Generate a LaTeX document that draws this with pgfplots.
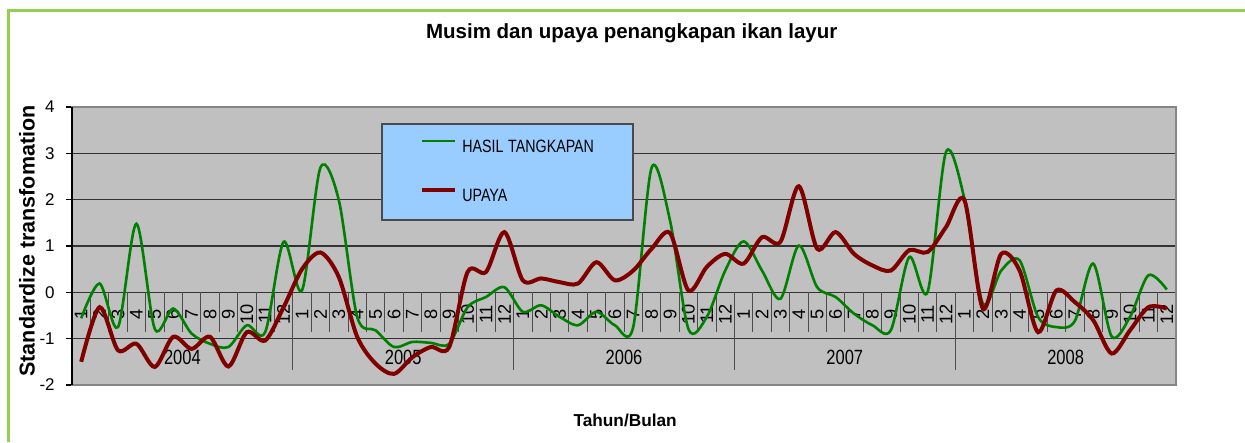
\documentclass[border=0pt]{standalone}
\usepackage{fontspec}
\setmainfont{Liberation Sans}
\usepackage{graphicx}
\usepackage{pgfplots}
\pgfplotsset{compat=1.18}

\definecolor{hasil}{HTML}{008000}
\definecolor{upaya}{HTML}{800000}
\definecolor{plotgray}{HTML}{C0C0C0}
\definecolor{framegray}{HTML}{868686}
\definecolor{legblue}{HTML}{99CCFF}
\definecolor{legborder}{HTML}{4A4A4A}
\definecolor{outergreen}{HTML}{92D050}

\tikzset{
  mlab/.style={rotate=90, anchor=center, inner sep=0pt, font=\fontsize{7.3}{8}\selectfont},
  ylab/.style={anchor=center, inner sep=0pt, font=\fontsize{6.6}{7}\selectfont},
  sep/.style={draw=black!70, line width=0.4pt},
}
\newcommand{\tall}[1]{\scalebox{1}[1.25]{#1}}

\begin{document}
\begin{tikzpicture}
% whole picture in pixel units of the reference (1px = 0.4pt)
\begin{scope}[x=0.4pt,y=0.4pt]
  \useasboundingbox (0,0) rectangle (1245,442);
  \fill[white] (0,0) rectangle (1245,442);
  \draw[outergreen, line width=1.2pt] (8,0) -- (8,432) -- (1245,432);
\end{scope}

\begin{axis}[
  at={(28.8pt,22.8pt)}, anchor=south west,
  scale only axis, width=441.6pt, height=111.2pt,
  xmin=0.5, xmax=60.5, ymin=-2, ymax=4,
  xtick=\empty,
  ytick={-2,-1,0,1,2,3,4}, ytick pos=left,
  tick align=outside, major tick length=2.4pt,
  ytick style={black, line width=0.5pt},
  yticklabel style={font=\fontsize{6.8}{7}\selectfont, xshift=-1pt},
  /pgf/number format/assume math mode=true,
  ymajorgrids, major grid style={black!80, line width=0.45pt},
  axis background/.style={fill=plotgray},
  axis line style={draw=framegray, line width=0.8pt},
  title={Musim dan upaya penangkapan ikan layur},
  title style={at={(0.507,1.273)}, anchor=center, inner sep=0pt, yshift=-6.8pt,
    font=\bfseries\fontsize{8.2}{9}\selectfont},
  xlabel={Tahun/Bulan},
  xlabel style={at={(0.501,-0.126)}, anchor=center, inner sep=0pt,
    font=\bfseries\fontsize{6.9}{8}\selectfont},
  ylabel={Standardize transfomation},
  ylabel style={at={(-0.0408,0.518)}, anchor=center, inner sep=0pt,
    font=\bfseries\fontsize{8.6}{9}\selectfont},
  legend style={at={(0.2799,0.9424)}, anchor=north west,
    fill=legblue, draw=legborder, line width=0.6pt,
    inner xsep=15.4pt, inner ysep=6.2pt, row sep=13.1pt,
    font=\fontsize{5.7}{6}\selectfont,
    nodes={inner xsep=2pt, inner ysep=0pt, text height=5.2pt, text depth=1.3pt,
      text width=50.8pt, align=left}},
  legend cell align=left,
  legend image code/.code={\draw[#1] (0pt,2.5pt) -- (13.2pt,2.5pt);},
  clip=false,
]

% category separators and labels (drawn under the series)
\pgfplotsinvokeforeach{1,...,59}{\draw[sep] (axis cs:#1+0.5,0) -- (axis cs:#1+0.5,-0.86);}
\pgfplotsinvokeforeach{12,24,36,48}{\draw[sep] (axis cs:#1+0.5,0) -- (axis cs:#1+0.5,-1.68);}
\pgfplotsinvokeforeach{1,...,12}{
  \node[mlab] at (axis cs:#1,-0.475) {#1};
  \node[mlab] at (axis cs:#1+12,-0.475) {#1};
  \node[mlab] at (axis cs:#1+24,-0.475) {#1};
  \node[mlab] at (axis cs:#1+36,-0.475) {#1};
  \node[mlab] at (axis cs:#1+48,-0.475) {#1};
}
\node[ylab] at (axis cs:6.5,-1.4) {\tall{2004}};
\node[ylab] at (axis cs:18.5,-1.4) {\tall{2005}};
\node[ylab] at (axis cs:30.5,-1.4) {\tall{2006}};
\node[ylab] at (axis cs:42.5,-1.4) {\tall{2007}};
\node[ylab] at (axis cs:54.5,-1.4) {\tall{2008}};
\draw[black, line width=0.5pt] (rel axis cs:0,0) -- (rel axis cs:0,1);

\addplot[hasil, line width=1.05pt, smooth, tension=0.5] coordinates {
(1,-0.56) (2,0.19) (3,-0.75) (4,1.48) (5,-0.79) (6,-0.35) (7,-0.89) (8,-1.11)
(9,-1.18) (10,-0.71) (11,-0.86) (12,1.09) (13,0.04) (14,2.69) (15,1.99) (16,-0.53)
(17,-0.82) (18,-1.18) (19,-1.07) (20,-1.09) (21,-1.11) (22,-0.32) (23,-0.10) (24,0.11)
(25,-0.42) (26,-0.28) (27,-0.53) (28,-0.71) (29,-0.42) (30,-0.71) (31,-0.75) (32,2.69)
(33,1.55) (34,-0.79) (35,-0.53) (36,0.47) (37,1.10) (38,0.47) (39,-0.14) (40,1.01)
(41,0.11) (42,-0.10) (43,-0.46) (44,-0.71) (45,-0.82) (46,0.76) (47,0.01) (48,3.03)
(49,2.02) (50,-0.24) (51,0.47) (52,0.69) (53,-0.53) (54,-0.75) (55,-0.62) (56,0.62)
(57,-0.95) (58,-0.53) (59,0.37) (60,0.06)
};
\addplot[upaya, line width=1.6pt, smooth, tension=0.5] coordinates {
(1,-1.50) (2,-0.32) (3,-1.25) (4,-1.11) (5,-1.61) (6,-0.96) (7,-1.22) (8,-0.96)
(9,-1.60) (10,-0.86) (11,-1.04) (12,-0.32) (13,0.50) (14,0.86) (15,0.33) (16,-0.96)
(17,-1.54) (18,-1.76) (19,-1.40) (20,-1.18) (21,-1.18) (22,0.44) (23,0.44) (24,1.30)
(25,0.26) (26,0.30) (27,0.22) (28,0.19) (29,0.65) (30,0.26) (31,0.47) (32,0.94)
(33,1.28) (34,0.04) (35,0.55) (36,0.83) (37,0.62) (38,1.19) (39,1.09) (40,2.29)
(41,0.94) (42,1.30) (43,0.83) (44,0.58) (45,0.47) (46,0.91) (47,0.87) (48,1.41)
(49,1.99) (50,-0.35) (51,0.83) (52,0.47) (53,-0.86) (54,0.04) (55,-0.21) (56,-0.60)
(57,-1.32) (58,-0.82) (59,-0.32) (60,-0.35)
};
\legend{\tall{\mbox{HASIL TANGKAPAN}}, \tall{UPAYA}}
\end{axis}
\end{tikzpicture}
\end{document}
